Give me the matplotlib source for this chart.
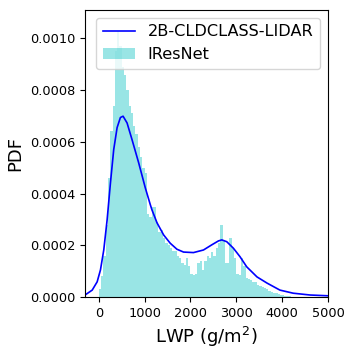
import numpy as np
import matplotlib
matplotlib.use("Agg")
import matplotlib.pyplot as plt

# histogram of IResNet LWP, bins of 50 g/m2 starting at 0
bin_width = 50
hist_pdf = [
    0.3e-4, 0.8e-4, 1.6e-4, 2.8e-4, 4.6e-4, 6.4e-4, 7.4e-4, 9.5e-4, 10.3e-4, 9.7e-4,
    8.9e-4, 8.6e-4, 8.0e-4, 7.4e-4, 7.1e-4, 6.6e-4, 6.3e-4, 5.8e-4, 5.4e-4, 5.0e-4,
    4.8e-4, 3.2e-4, 3.1e-4, 3.5e-4, 3.5e-4, 2.9e-4, 2.5e-4, 2.6e-4, 2.3e-4, 2.1e-4,
    2.0e-4, 1.9e-4, 1.8e-4, 1.8e-4, 1.6e-4, 1.5e-4, 1.3e-4, 1.25e-4, 1.5e-4, 1.2e-4,
    0.9e-4, 0.85e-4, 0.9e-4, 1.3e-4, 1.4e-4, 1.05e-4, 1.4e-4, 1.6e-4, 1.5e-4, 1.75e-4,
    1.6e-4, 1.9e-4, 2.1e-4, 2.8e-4, 2.2e-4, 1.3e-4, 1.3e-4, 2.3e-4, 1.9e-4, 1.5e-4,
    0.9e-4, 0.85e-4, 1.5e-4, 1.2e-4, 0.75e-4, 0.7e-4, 0.65e-4, 0.6e-4, 0.6e-4, 0.45e-4,
    0.42e-4, 0.4e-4, 0.35e-4, 0.3e-4, 0.25e-4, 0.2e-4, 0.17e-4, 0.14e-4, 0.12e-4, 0.1e-4,
    0.07e-4, 0.05e-4, 0.04e-4, 0.03e-4, 0.02e-4,
]

# 2B-CLDCLASS-LIDAR density curve
kde_lwp = [-300, -143, -35, 37, 109, 182, 254, 326, 400, 472, 530, 617, 726, 870,
           1015, 1124, 1160, 1270, 1415, 1559, 1704, 1848, 2065, 2283, 2465, 2609,
           2683, 2791, 2935, 3080, 3226, 3450, 3670, 3950, 4240, 4610, 5000]
kde_pdf = [0.08e-4, 0.27e-4, 0.59e-4, 1.05e-4, 1.82e-4, 2.98e-4, 4.4e-4, 5.7e-4,
           6.55e-4, 6.94e-4, 6.99e-4, 6.73e-4, 6.08e-4, 5.19e-4, 4.22e-4, 3.57e-4,
           3.37e-4, 2.87e-4, 2.4e-4, 2.08e-4, 1.85e-4, 1.74e-4, 1.72e-4, 1.82e-4,
           2.02e-4, 2.17e-4, 2.21e-4, 2.14e-4, 1.89e-4, 1.56e-4, 1.17e-4, 0.78e-4,
           0.54e-4, 0.27e-4, 0.15e-4, 0.08e-4, 0.05e-4]

edges = np.arange(len(hist_pdf) + 1) * bin_width
centers = edges[:-1] + bin_width / 2

fig, ax = plt.subplots(figsize=(3.52, 3.52), dpi=100)
fig.subplots_adjust(left=0.2415, right=0.932, top=0.972, bottom=0.156)

ax.plot(kde_lwp, kde_pdf, color="b", lw=1.2, label="2B-CLDCLASS-LIDAR")
ax.hist(centers, bins=edges, weights=hist_pdf, color="c", alpha=0.4, label="IResNet")

ax.set_xlim(-300, 5000)
ax.set_ylim(0, 0.00111)
ax.set_xticks([0, 1000, 2000, 3000, 4000, 5000])
ax.tick_params(labelsize=9.3)
ax.set_xlabel("LWP (g/m$^2$)", fontsize=13)
ax.set_ylabel("PDF", fontsize=13)
ax.legend(loc="upper right", fontsize=11.6)

fig.savefig("out.png", dpi=100)
